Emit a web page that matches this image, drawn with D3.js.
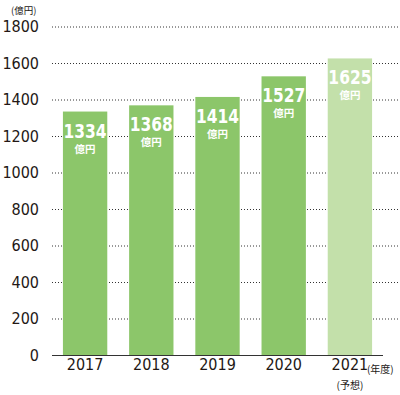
<!DOCTYPE html>
<html>
<head>
<meta charset="utf-8">
<script src="https://cdn.jsdelivr.net/npm/d3@7"></script>
<style>
  body { margin: 0; background: #fff; }
  svg text { font-family: "DejaVu Sans", sans-serif; font-stretch: condensed; }
  svg text.jp { font-family: "Noto Sans CJK JP", sans-serif; font-stretch: normal; }
</style>
</head>
<body>
<div id="chart"></div>
<script>
// data
const years = ['2017', '2018', '2019', '2020', '2021'];
const sales = [1334, 1368, 1414, 1527, 1625];
const forecast = [false, false, false, false, true];
const yTicks = [0, 200, 400, 600, 800, 1000, 1200, 1400, 1600, 1800];

const W = 400, H = 395;
const svg = d3.select('#chart').append('svg')
    .attr('width', W).attr('height', H);

const x = d3.scaleBand()
    .domain(years)
    .range([52, 383])
    .paddingInner(0.33)
    .paddingOuter(0.165);

const y = d3.scaleLinear()
    .domain([0, 1800])
    .range([355, 26.5]);

// dotted grid lines
svg.append('g')
    .selectAll('line')
    .data(yTicks.filter(d => d > 0))
    .join('line')
    .attr('x1', 52).attr('x2', 400)
    .attr('y1', d => y(d) + 0.5).attr('y2', d => y(d) + 0.5)
    .attr('stroke', '#333')
    .attr('stroke-width', 1)
    .attr('stroke-dasharray', '1,2');

// y axis labels
const yAxis = svg.append('g')
    .attr('transform', 'translate(39,0)')
    .call(d3.axisLeft(y).tickValues(yTicks).tickFormat(d3.format('d')).tickSize(0).tickPadding(0));
yAxis.select('.domain').remove();
yAxis.selectAll('text')
    .attr('font-size', 16)
    .attr('font-family', null)
    .attr('fill', '#231815');

// bars
svg.append('g')
    .selectAll('rect')
    .data(years)
    .join('rect')
    .attr('x', d => x(d))
    .attr('width', x.bandwidth())
    .attr('y', (d, i) => y(sales[i]))
    .attr('height', (d, i) => y(0) - y(sales[i]))
    .attr('fill', (d, i) => forecast[i] ? '#c3e0aa' : '#8cc66a');

// baseline
svg.append('line')
    .attr('x1', 52).attr('x2', 383)
    .attr('y1', y(0) + 0.5).attr('y2', y(0) + 0.5)
    .attr('stroke', '#333')
    .attr('stroke-width', 1.2);

// value labels
const labels = svg.append('g')
    .selectAll('g')
    .data(years)
    .join('g')
    .attr('transform', (d, i) => `translate(${x(d) + x.bandwidth() / 2},${y(sales[i])})`);

labels.append('text')
    .attr('text-anchor', 'middle')
    .attr('transform', 'translate(0,26) scale(0.86,1)')
    .attr('font-size', 20)
    .attr('font-weight', 'bold')
    .attr('fill', '#fff')
    .text((d, i) => sales[i]);

labels.append('text')
    .attr('class', 'jp')
    .attr('text-anchor', 'middle')
    .attr('y', 41)
    .attr('font-size', 10.5)
    .attr('font-weight', 'bold')
    .attr('fill', '#fff')
    .text('億円');

// x axis labels
const xAxis = svg.append('g')
    .attr('transform', `translate(0,${y(0)})`)
    .call(d3.axisBottom(x).tickSize(0).tickPadding(4));
xAxis.select('.domain').remove();
xAxis.selectAll('text')
    .attr('font-size', 16)
    .attr('font-family', null)
    .attr('fill', '#231815');

// unit notes
svg.append('text')
    .attr('class', 'jp')
    .attr('x', 11).attr('y', 14)
    .attr('font-size', 9.5)
    .attr('fill', '#231815')
    .text('(億円)');

svg.append('text')
    .attr('class', 'jp')
    .attr('x', x('2021') + x.bandwidth() / 2 + 17).attr('y', 373)
    .attr('font-size', 10)
    .attr('fill', '#231815')
    .text('(年度)');

svg.append('text')
    .attr('class', 'jp')
    .attr('x', x('2021') + x.bandwidth() / 2).attr('y', 389)
    .attr('text-anchor', 'middle')
    .attr('font-size', 10)
    .attr('fill', '#231815')
    .text('(予想)');
</script>
</body>
</html>
